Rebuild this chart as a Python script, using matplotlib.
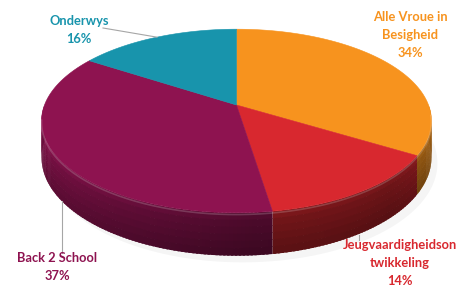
import numpy as np
import matplotlib.pyplot as plt
from matplotlib.patches import Polygon
import matplotlib.colors as mcolors

# Data
labels = ['Alle Vroue in\nBesigheid', 'Jeugvaardigheidson\ntwikkeling', 'Back 2 School', 'Onderwys']
values = [34, 14, 37, 16]
pct_labels = ['34%', '14%', '37%', '16%']
colors = ['#F7931E', '#D8282F', '#8E1350', '#1894AC']

W, H = 471, 287
cx, cy = 236.5, 105        # projected centre of top face (pixels)
a, b, k = 89.0, 192.0, 0.174  # vertical radius, horizontal radius, perspective
depth = 35.0

def proj(theta, drop=0.0):
    '''
    Project a point of the (tilted) unit circle to pixel coords
    '''
    u, v = np.cos(theta), np.sin(theta)
    s = 1 + k * v
    return cx + b * u / s, cy - a * v / s + drop / s

fig = plt.figure(figsize=(W / 100, H / 100), dpi=100)
ax = fig.add_axes([0, 0, 1, 1])
ax.set_xlim(0, W)
ax.set_ylim(H, 0)
ax.axis('off')

frac = np.array(values, dtype=float) / sum(values)
cum = np.concatenate([[0], np.cumsum(frac)])
starts = np.pi / 2 - 2 * np.pi * cum[:-1]
ends = np.pi / 2 - 2 * np.pi * cum[1:]

# faint shadow under the pie
ts = np.linspace(0, 2 * np.pi, 200)
sx, sy = proj(ts, depth + 6)
ax.add_patch(Polygon(np.column_stack([sx + 6, sy]), closed=True, fc='#000000', alpha=0.04, ec='none'))

# side walls (only the front half is visible)
shade_t = [-np.pi, -2.4, -1.5, -0.8, 0]
shade_v = [0.86, 0.72, 0.5, 0.47, 0.66]
bands = np.linspace(0, 1, 7)
band_mult = [1.15, 1.05, 1.0, 0.95, 0.9, 0.86]
for col, t0, t1 in zip(colors, starts, ends):
    lo, hi = max(t1, -np.pi), min(t0, 0)
    if lo >= hi:
        continue
    rgb = np.array(mcolors.to_rgb(col))
    tt = np.linspace(hi, lo, max(int((hi - lo) * 60), 2))
    step = tt[0] - tt[1]
    for j in range(len(tt) - 1):
        tm = 0.5 * (tt[j] + tt[j + 1])
        sh = np.interp(tm, shade_t, shade_v)
        # overlap the next strip a little to hide seams
        tn = max(tt[j + 1] - 0.6 * step, lo) if j < len(tt) - 2 else tt[j + 1]
        for m in range(len(bands) - 1):
            d0, d1 = bands[m] * depth, bands[m + 1] * depth
            x0, y0 = proj(tt[j], d0)
            x1, y1 = proj(tn, d0)
            x2, y2 = proj(tn, d1 + 0.5)
            x3, y3 = proj(tt[j], d1 + 0.5)
            c = np.clip(rgb * sh * band_mult[m], 0, 1)
            ax.add_patch(Polygon([(x0, y0), (x1, y1), (x2, y2), (x3, y3)],
                                 closed=True, fc=c, ec='none', lw=0))

# top faces
for col, t0, t1 in zip(colors, starts, ends):
    tt = np.linspace(t0, t1, 120)
    px, py = proj(tt)
    pts = np.column_stack([np.r_[cx, px], np.r_[cy, py]])
    ax.add_patch(Polygon(pts, closed=True, fc=col, ec=col, lw=0.4))

# rim highlight on the front edge
tt = np.linspace(-np.pi + 0.15, -0.1, 200)
hx, hy = proj(tt, 1.5)
ax.plot(hx, hy, color='white', alpha=0.18, lw=1.2)

# leader lines
mids = 0.5 * (starts + ends)
lc = '#a6a6a6'
x, y = proj(mids[3])
ax.plot([103, x], [28, y], color=lc, lw=0.8)
x, y = proj(mids[2], depth)
ax.plot([x + 3, x + 3], [y + 4, 253], color=lc, lw=0.8)
x, y = proj(mids[1], depth)
ax.plot([x - 3, x - 3], [y + 3, 240], color=lc, lw=0.8)

# labels
fp = dict(family='Lato', weight='bold', fontsize=9.3, ha='center', va='center', linespacing=1.6)
ax.text(410, 35, labels[0] + '\n' + pct_labels[0], color=colors[0], **fp)
ax.text(400, 263, labels[1] + '\n' + pct_labels[1], color=colors[1], **fp)
ax.text(57, 267, labels[2] + '\n' + pct_labels[2], color=colors[2], **fp)
ax.text(79, 30, labels[3] + '\n' + pct_labels[3], color=colors[3], **fp)

fig.savefig('out.png', dpi=100)
